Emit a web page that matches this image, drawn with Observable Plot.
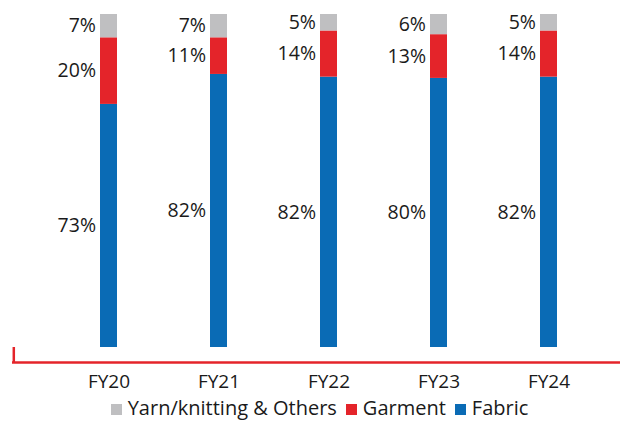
<!DOCTYPE html>
<html>
<head>
<meta charset="utf-8">
<script src="https://cdn.jsdelivr.net/npm/d3@7"></script>
<script src="https://cdn.jsdelivr.net/npm/@observablehq/plot@0.6"></script>
<style>
  html, body { margin: 0; padding: 0; background: #fff; }
  body { width: 620px; height: 421px; overflow: hidden; position: relative; font-family: "Open Sans", "Noto Sans", sans-serif; }
  svg { display: block; }
  #legend { position: absolute; top: 393.6px; left: 0; width: 620px; box-sizing: border-box; display: flex; justify-content: center; align-items: center; font-size: 20px; color: #1a1a1a; padding-left: 28px; line-height: normal; white-space: nowrap; }
  #legend .item { display: flex; align-items: center; margin-right: 9px; }
  #legend .sw { width: 11px; height: 11px; margin-right: 6px; margin-top: 4px; display: inline-block; }
</style>
</head>
<body>
<div id="chart"></div>
<div id="legend"></div>
<script>
const years = ["FY20", "FY21", "FY22", "FY23", "FY24"];
const fabric = [73, 82, 82, 80, 82];
const garment = [20, 11, 14, 13, 14];
const others = [7, 7, 5, 6, 5];
const segments = ["Fabric", "Garment", "Yarn/knitting & Others"];
const colors = ["#0a6bb5", "#e4242a", "#bfbfc1"];
const legendOrder = ["Yarn/knitting & Others", "Garment", "Fabric"];

const rows = [];
years.forEach((y, i) => {
  rows.push({year: y, segment: "Fabric", value: fabric[i]});
  rows.push({year: y, segment: "Garment", value: garment[i]});
  rows.push({year: y, segment: "Yarn/knitting & Others", value: others[i]});
});

const stackOpts = {x: "year", y: "value", z: "segment", order: segments, offset: "normalize"};

const plot = Plot.plot({
  width: 620,
  height: 395,
  marginTop: 14,
  marginBottom: 48,
  marginLeft: 12,
  marginRight: 0,
  style: {fontFamily: "'Open Sans', 'Noto Sans', sans-serif", background: "#fff"},
  x: {domain: years, range: [51.6, 605.4], paddingInner: 0.85, paddingOuter: 0.425, label: null},
  y: {domain: [0, 1], axis: null},
  color: {domain: segments, range: colors},
  marks: [
    Plot.barY(rows, Plot.stackY({...stackOpts, fill: "segment"})),
    Plot.text(rows, Plot.stackY({
      ...stackOpts,
      text: d => d.value + "%",
      textAnchor: "end",
      dx: -13,
      fontSize: 19.5,
      fill: "#1a1a1a"
    })),
    Plot.ruleY([0], {stroke: "#e4242a", strokeWidth: 2.5, dy: 15}),
    Plot.ruleX([0], {x: null, y1: 0, y2: 0.045, stroke: "#e4242a", strokeWidth: 2.5, dx: -302.7, dy: 15}),
    Plot.axisX({tickSize: 0, tickPadding: 27, fontSize: 19, label: null, color: "#1a1a1a"})
  ]
});
document.getElementById("chart").appendChild(plot);

const legend = document.getElementById("legend");
legendOrder.forEach(name => {
  const item = document.createElement("span");
  item.className = "item";
  const sw = document.createElement("span");
  sw.className = "sw";
  sw.style.background = colors[segments.indexOf(name)];
  const label = document.createElement("span");
  label.textContent = name;
  item.appendChild(sw);
  item.appendChild(label);
  legend.appendChild(item);
});
</script>
</body>
</html>
